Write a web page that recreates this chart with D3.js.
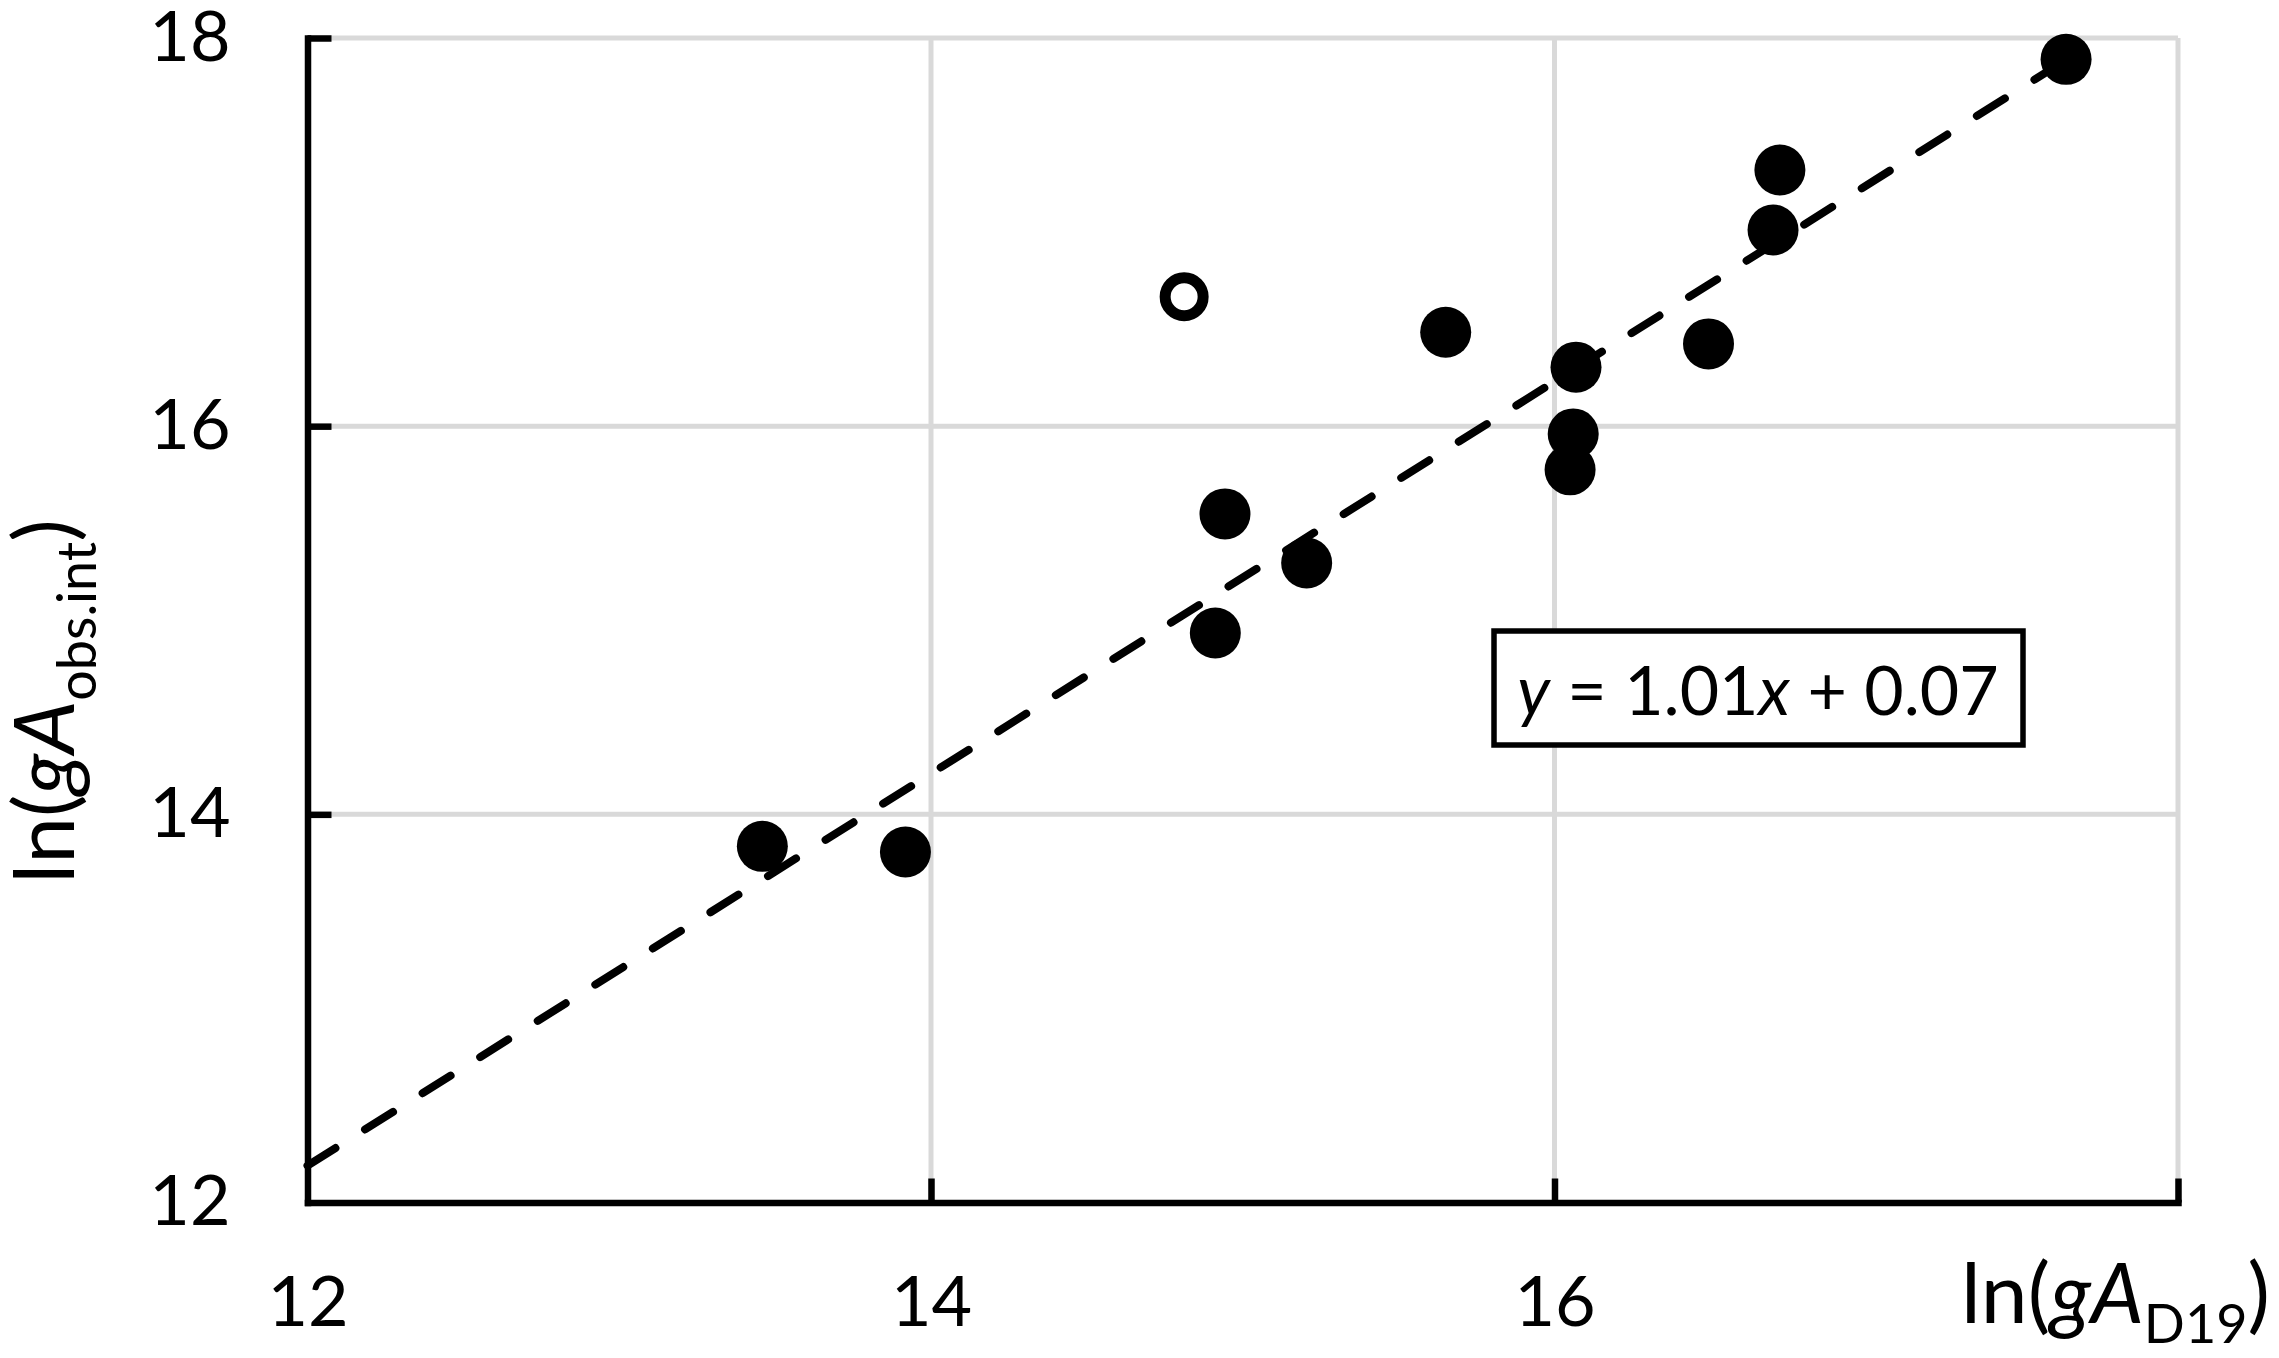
<!DOCTYPE html>
<html>
<head>
<meta charset="utf-8">
<script src="https://cdn.jsdelivr.net/npm/d3@7"></script>
<style>
  html, body { margin: 0; padding: 0; background: #fff; }
  svg { display: block; font-family: Lato, "Open Sans", sans-serif; }
</style>
</head>
<body>
<svg id="chart" width="2279" height="1358"></svg>
<script>
// ---- data ----
const xTicks = [12, 14, 16, 18];
const xTickLabels = ["12", "14", "16", ""];
const yTicks = [12, 14, 16, 18];
const yTickLabels = ["12", "14", "16", "18"];
const filledX = [13.459, 13.918, 14.943, 14.912, 15.205, 15.651, 16.069, 16.060, 16.050, 16.494, 16.701, 16.723, 17.641];
const filledY = [13.835, 13.806, 15.548, 14.934, 15.295, 16.484, 16.304, 15.960, 15.775, 16.424, 17.011, 17.320, 17.890];
const openX = [14.812];
const openY = [16.667];
const fitSlope = 1.01;
const fitIntercept = 0.07;
const fitRange = [12, 17.64];
const equationParts = [["y", true], [" = 1.01", false], ["x", true], [" + 0.07", false]];

// ---- layout ----
const svg = d3.select("#chart");
const x = d3.scaleLinear().domain([12, 18]).range([307.5, 2178]);
const y = d3.scaleLinear().domain([12, 18]).range([1202.5, 38]);
const gridColor = "#d9d9d9";

// gridlines
const grid = svg.append("g");
grid.selectAll("line.vx").data(xTicks.filter(d => d > 12)).join("line")
  .attr("x1", d => x(d)).attr("x2", d => x(d))
  .attr("y1", y(12)).attr("y2", y(18))
  .attr("stroke", gridColor).attr("stroke-width", 5);
grid.selectAll("line.hy").data(yTicks.filter(d => d > 12)).join("line")
  .attr("y1", d => y(d)).attr("y2", d => y(d))
  .attr("x1", x(12)).attr("x2", x(18))
  .attr("stroke", gridColor).attr("stroke-width", 5);

// axes
const xAxis = d3.axisBottom(x).tickValues(xTicks).tickFormat((d, i) => xTickLabels[i])
  .tickSizeInner(-24).tickSizeOuter(0).tickPadding(74);
const yAxis = d3.axisLeft(y).tickValues(yTicks).tickFormat((d, i) => yTickLabels[i])
  .tickSizeInner(-24).tickSizeOuter(0).tickPadding(77);

function styleAxis(g) {
  g.select(".domain").attr("stroke", "#000").attr("stroke-width", 6.5).attr("stroke-linecap", "square");
  g.selectAll(".tick line").attr("stroke", "#000").attr("stroke-width", 6.5);
  g.selectAll(".tick text").attr("fill", "#000").attr("font-size", 70).attr("font-family", "Lato, sans-serif");
}
const gx = svg.append("g").attr("transform", `translate(0,${y(12)})`).call(xAxis).call(styleAxis);
gx.selectAll(".tick").filter(d => d === 12).select("line").remove();
gx.selectAll(".tick text").filter(function() { return this.textContent === ""; }).remove();
const gy = svg.append("g").attr("transform", `translate(${x(12)},0)`).call(yAxis).call(styleAxis);
gy.selectAll(".tick").filter(d => d === 12).select("line").remove();

// equation box
const box = svg.append("g");
box.append("rect").attr("x", 1494).attr("y", 631).attr("width", 529).attr("height", 114)
  .attr("fill", "#fff").attr("stroke", "#000").attr("stroke-width", 5.5);
const eq = box.append("text").attr("x", 1758).attr("y", 715).attr("text-anchor", "middle")
  .attr("font-size", 68).attr("fill", "#000");
equationParts.forEach(([t, it]) => {
  eq.append("tspan").text(t).attr("font-style", it ? "italic" : "normal");
});

// markers
const pts = filledX.map((d, i) => ({x: d, y: filledY[i]}));
svg.append("g").selectAll("circle").data(pts).join("circle")
  .attr("cx", d => x(d.x)).attr("cy", d => y(d.y)).attr("r", 25.5).attr("fill", "#000");
const opts = openX.map((d, i) => ({x: d, y: openY[i]}));
svg.append("g").selectAll("circle").data(opts).join("circle")
  .attr("cx", d => x(d.x)).attr("cy", d => y(d.y)).attr("r", 19)
  .attr("fill", "#fff").attr("stroke", "#000").attr("stroke-width", 11);

// trend line
const fitPts = fitRange.map(v => [v, fitSlope * v + fitIntercept]);
svg.append("path")
  .attr("d", d3.line().x(d => x(d[0])).y(d => y(d[1]))(fitPts))
  .attr("fill", "none").attr("stroke", "#000").attr("stroke-width", 8)
  .attr("stroke-dasharray", "33 35").attr("stroke-linecap", "round");

// axis titles
const xt = svg.append("text").attr("x", 2270).attr("y", 1323).attr("text-anchor", "end")
  .attr("font-size", 84).attr("fill", "#000");
xt.append("tspan").text("ln(");
xt.append("tspan").text("gA").attr("font-style", "italic");
xt.append("tspan").text("D19").attr("font-size", 54).attr("dy", 20);
xt.append("tspan").text(")").attr("dy", -20);

const yt = svg.append("text").attr("transform", "translate(74,701.5) rotate(-90)")
  .attr("text-anchor", "middle").attr("font-size", 84).attr("fill", "#000");
yt.append("tspan").text("ln(");
yt.append("tspan").text("gA").attr("font-style", "italic");
yt.append("tspan").text("obs.int").attr("font-size", 54).attr("dy", 22);
yt.append("tspan").text(")").attr("dy", -22);
</script>
</body>
</html>
